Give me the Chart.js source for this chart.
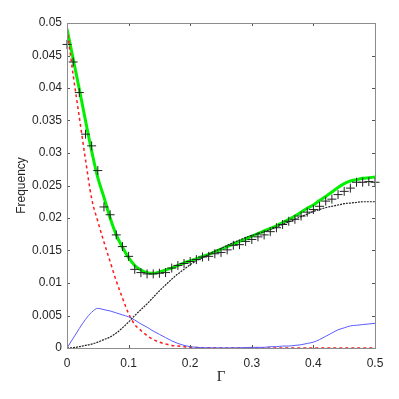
<!DOCTYPE html>
<html>
<head>
<meta charset="utf-8">
<script src="https://cdn.jsdelivr.net/npm/chart.js@4/dist/chart.umd.min.js"></script>
<style>
  body { margin: 0; background: #fff; }
  canvas { display: block; }
</style>
</head>
<body>
<canvas id="chart" width="399" height="399"></canvas>
<script>
// Gamma values (x axis)
const gamma = [0, 0.01, 0.02, 0.03, 0.04, 0.05, 0.06, 0.07, 0.08, 0.09,
  0.10, 0.11, 0.12, 0.13, 0.14, 0.15, 0.16, 0.17, 0.18, 0.19,
  0.20, 0.21, 0.22, 0.23, 0.24, 0.25, 0.26, 0.27, 0.28, 0.29,
  0.30, 0.31, 0.32, 0.33, 0.34, 0.35, 0.36, 0.37, 0.38, 0.39,
  0.40, 0.41, 0.42, 0.43, 0.44, 0.45, 0.46, 0.47, 0.48, 0.49, 0.50]

// measured histogram (+ markers)
const measured = [0.0467, 0.0440, 0.0393, 0.0329, 0.0311, 0.0273, 0.0217, 0.0205, 0.0174, 0.0156,
  0.0141, 0.0121, 0.0116, 0.0114, 0.0114, 0.0115, 0.0116, 0.0123, 0.0127, 0.0130,
  0.0133, 0.0136, 0.0140, 0.0141, 0.0145, 0.0147, 0.0151, 0.0158, 0.0159, 0.0164,
  0.0167, 0.0171, 0.0174, 0.0179, 0.0185, 0.0190, 0.0195, 0.0198, 0.0203, 0.0209,
  0.0213, 0.0218, 0.0226, 0.0229, 0.0236, 0.0241, 0.0246, 0.0255, 0.0255, 0.0256, 0.0255]

// total fit (green)
const totalFit = [0.0491, 0.0445, 0.0398, 0.0350, 0.0303, 0.0262, 0.0232, 0.0200, 0.0174, 0.0155,
  0.0139, 0.0127, 0.0120, 0.0116, 0.0115, 0.0117, 0.0120, 0.0123, 0.0127, 0.0131,
  0.0134, 0.0137, 0.0141, 0.0144, 0.0148, 0.0152, 0.0156, 0.0160, 0.0164, 0.0168,
  0.0172, 0.0176, 0.0180, 0.0184, 0.0188, 0.0193, 0.0198, 0.0203, 0.0209, 0.0215,
  0.0220, 0.0227, 0.0233, 0.0240, 0.0247, 0.0253, 0.0257, 0.0259, 0.0261, 0.0262, 0.0263]

// component 1 (red dashed)
const compRed = [0.0491, 0.0420, 0.0355, 0.0290, 0.0230, 0.0195, 0.0163, 0.0133, 0.0103, 0.0077,
  0.0053, 0.0036, 0.0027, 0.0019, 0.0013, 0.0009, 0.0006, 0.0004, 0.0003, 0.0002,
  0.0001, 0.00007, 0.00005, 0.00003, 0.00002, 0.00001, 0, 0, 0, 0,
  0, 0, 0, 0, 0, 0, 0, 0, 0, 0,
  0, 0, 0, 0, 0, 0, 0, 0, 0, 0, 0]

// component 2 (blue)
const compBlue = [0, 0.0015, 0.0030, 0.0044, 0.0055, 0.0061, 0.0059, 0.0057, 0.0054, 0.0051,
  0.0048, 0.0043, 0.0037, 0.0032, 0.0026, 0.0021, 0.0016, 0.0011, 0.0007, 0.0004,
  0.0002, 0.0001, 0.00005, 0.00003, 0.00002, 0.00002, 0.00002, 0.00003, 0.00004, 0.00006,
  0.0001, 0.0001, 0.0001, 0.0002, 0.0002, 0.0003, 0.0003, 0.0004, 0.0005, 0.0007,
  0.0009, 0.0013, 0.0018, 0.0023, 0.0028, 0.0031, 0.0034, 0.0035, 0.0036, 0.0037, 0.0038]

// component 3 (black dotted)
const compBlack = [0, 0.00005, 0.0002, 0.0004, 0.0006, 0.0009, 0.0013, 0.0017, 0.0023, 0.0031,
  0.0040, 0.0050, 0.0059, 0.0068, 0.0078, 0.0088, 0.0097, 0.0106, 0.0114, 0.0121,
  0.0128, 0.0134, 0.0139, 0.0144, 0.0149, 0.0153, 0.0158, 0.0162, 0.0166, 0.0170,
  0.0173, 0.0176, 0.0179, 0.0182, 0.0186, 0.0190, 0.0194, 0.0198, 0.0202, 0.0206,
  0.0210, 0.0213, 0.0216, 0.0218, 0.0220, 0.0222, 0.0223, 0.0224, 0.0225, 0.0225, 0.0225]

const xTicks = [0, 0.1, 0.2, 0.3, 0.4, 0.5]
const xTickLabels = ['0', '0.1', '0.2', '0.3', '0.4', '0.5']
const yTicks = [0, 0.005, 0.01, 0.015, 0.02, 0.025, 0.03, 0.035, 0.04, 0.045, 0.05]
const yTickLabels = ['0', '0.005', '0.01', '0.015', '0.02', '0.025', '0.03', '0.035', '0.04', '0.045', '0.05']

function pts(ys) {
    return gamma.map((g, i) => ({x: g, y: ys[i]}))
}

// box around the plot with inward tick marks
const frame = {
    id: 'frame',
    afterDraw(chart) {
        const {ctx, chartArea: a, scales: {x, y}} = chart
        ctx.save()
        ctx.lineWidth = 1
        ctx.strokeStyle = '#555'
        ctx.beginPath()
        xTicks.forEach(v => {
            const px = Math.round(x.getPixelForValue(v)) + 0.5
            ctx.moveTo(px, a.bottom); ctx.lineTo(px, a.bottom - 3)
            ctx.moveTo(px, a.top); ctx.lineTo(px, a.top + 3)
        })
        yTicks.forEach(v => {
            const py = Math.round(y.getPixelForValue(v)) + 0.5
            ctx.moveTo(a.left, py); ctx.lineTo(a.left + 3, py)
            ctx.moveTo(a.right, py); ctx.lineTo(a.right - 3, py)
        })
        ctx.stroke()
        ctx.strokeStyle = '#8c8c8c'
        ctx.strokeRect(Math.round(a.left) + 0.5, Math.round(a.top) + 0.5,
            Math.round(a.right - a.left), Math.round(a.bottom - a.top))
        ctx.restore()
    }
}

const ctx = document.getElementById('chart').getContext('2d')
new Chart(ctx, {
    type: 'line',
    data: {
        datasets: [
            {
                data: pts(measured),
                showLine: false,
                pointStyle: 'cross',
                pointRadius: 4.5,
                pointBorderWidth: 1,
                pointBorderColor: '#222',
                clip: false,
                order: 0
            },
            {
                data: pts(compBlack),
                borderColor: '#222',
                borderWidth: 1.2,
                borderDash: [2, 1],
                pointRadius: 0,
                cubicInterpolationMode: 'monotone',
                order: 1
            },
            {
                data: pts(compBlue),
                borderColor: 'rgb(90,90,255)',
                borderWidth: 1,
                pointRadius: 0,
                cubicInterpolationMode: 'monotone',
                order: 2
            },
            {
                data: pts(compRed),
                borderColor: '#ff1a1a',
                borderWidth: 1.5,
                borderDash: [3, 3],
                pointRadius: 0,
                cubicInterpolationMode: 'monotone',
                order: 3
            },
            {
                data: pts(totalFit),
                borderColor: 'rgb(0,240,0)',
                borderWidth: 3,
                pointRadius: 0,
                cubicInterpolationMode: 'monotone',
                order: 4
            }
        ]
    },
    options: {
        responsive: false,
        animation: false,
        events: [],
        layout: {
            padding: {top: 23, right: 24, left: 0, bottom: 0}
        },
        plugins: {
            legend: {display: false},
            tooltip: {enabled: false}
        },
        scales: {
            x: {
                type: 'linear',
                min: 0,
                max: 0.5,
                grid: {display: false, drawTicks: false},
                border: {display: false},
                afterBuildTicks: s => { s.ticks = xTicks.map(v => ({value: v})) },
                afterFit: s => { s.height = 51 },
                ticks: {
                    padding: 8,
                    color: '#262626',
                    font: {family: 'Liberation Sans', size: 12},
                    callback: (v, i) => xTickLabels[i]
                },
                title: {
                    display: true,
                    text: 'Γ',
                    color: '#262626',
                    font: {family: 'Liberation Serif', size: 15},
                    padding: {top: 0, bottom: 13}
                }
            },
            y: {
                type: 'linear',
                min: 0,
                max: 0.05,
                grid: {display: false, drawTicks: false},
                border: {display: false},
                afterBuildTicks: s => { s.ticks = yTicks.map(v => ({value: v})) },
                afterFit: s => { s.width = 67 },
                ticks: {
                    padding: 5,
                    color: '#262626',
                    font: {family: 'Liberation Sans', size: 12},
                    callback: (v, i) => yTickLabels[i]
                },
                title: {
                    display: true,
                    text: 'Frequency',
                    color: '#262626',
                    font: {family: 'Liberation Sans', size: 12},
                    padding: {top: 14, bottom: 0}
                }
            }
        }
    },
    plugins: [frame]
})
</script>
</body>
</html>
